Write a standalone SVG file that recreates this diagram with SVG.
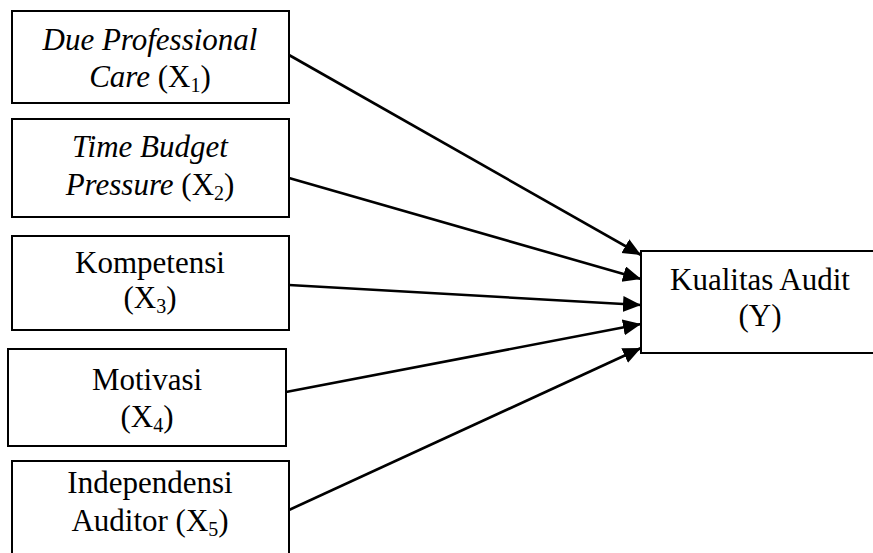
<svg xmlns="http://www.w3.org/2000/svg" width="873" height="553" viewBox="0 0 873 553">
<defs>
<style>
.box{fill:#fff;stroke:#000;stroke-width:2}
.t{font-family:"Liberation Serif","Times New Roman",serif;font-size:31px;fill:#000;text-anchor:middle}
.i{font-style:italic}
.sub{font-size:20px}
.c{stroke:#000;stroke-width:2.6;fill:none;marker-end:url(#ah)}
</style>
<marker id="ah" markerUnits="userSpaceOnUse" markerWidth="20" markerHeight="18" refX="18" refY="8" orient="auto">
<path d="M0,0 L18,8 L0,16 z" fill="#000"/>
</marker>
</defs>
<g id="connectors">
<line class="c" x1="289" y1="55" x2="641" y2="255"/>
<line class="c" x1="289" y1="178" x2="641" y2="279"/>
<line class="c" x1="289" y1="285" x2="641" y2="305"/>
<line class="c" x1="286" y1="392" x2="641" y2="324"/>
<line class="c" x1="289" y1="510" x2="641" y2="348"/>
</g>
<g id="x1">
<rect class="box" x="12" y="11" width="277" height="92"/>
<text class="t i" x="150" y="50">Due Professional</text>
<text class="t" x="150" y="87"><tspan class="i">Care</tspan> (X<tspan class="sub" dy="5">1</tspan><tspan dy="-5">)</tspan></text>
</g>
<g id="x2">
<rect class="box" x="12" y="119" width="277" height="98"/>
<text class="t i" x="150" y="157">Time Budget</text>
<text class="t" x="150" y="195"><tspan class="i">Pressure</tspan> (X<tspan class="sub" dy="5">2</tspan><tspan dy="-5">)</tspan></text>
</g>
<g id="x3">
<rect class="box" x="12" y="236" width="277" height="94"/>
<text class="t" x="150" y="273">Kompetensi</text>
<text class="t" x="150" y="308">(X<tspan class="sub" dy="5">3</tspan><tspan dy="-5">)</tspan></text>
</g>
<g id="x4">
<rect class="box" x="8" y="349" width="278" height="97"/>
<text class="t" x="147" y="390">Motivasi</text>
<text class="t" x="147" y="427">(X<tspan class="sub" dy="5">4</tspan><tspan dy="-5">)</tspan></text>
</g>
<g id="x5">
<rect class="box" x="12" y="461" width="277" height="110"/>
<text class="t" x="150" y="493">Independensi</text>
<text class="t" x="150" y="531">Auditor (X<tspan class="sub" dy="5">5</tspan><tspan dy="-5">)</tspan></text>
</g>
<g id="y">
<rect class="box" x="641" y="251" width="238" height="102"/>
<text class="t" x="760" y="290">Kualitas Audit</text>
<text class="t" x="760" y="326">(Y)</text>
</g>
</svg>
